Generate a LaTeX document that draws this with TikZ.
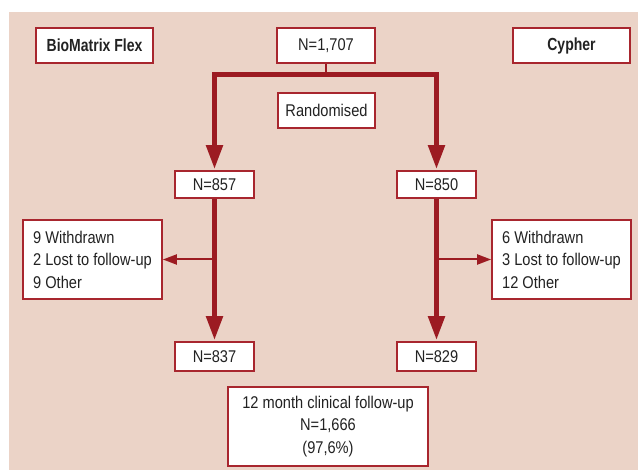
\documentclass[tikz,border=0pt]{standalone}
\usepackage{fontspec}
\setmainfont{Liberation Sans}[FakeStretch=0.86]
\newfontfamily\bcond{Liberation Sans}[FakeStretch=0.80]
\usetikzlibrary{arrows.meta}
\definecolor{bgc}{HTML}{EBD3C7}
\definecolor{frame}{HTML}{A8262E}
\definecolor{linec}{HTML}{9C1B22}
\definecolor{txt}{HTML}{222222}
\tikzset{
  box/.style={draw=frame, line width=1.7pt, fill=white, inner sep=0pt, text=txt,
    font=\fontsize{17}{22.5}\selectfont},
  boldbox/.style={box, font=\fontsize{17.5}{22}\selectfont\bcond\bfseries},
  thickline/.style={draw=linec, line width=5pt, line join=miter},
  thinline/.style={draw=linec, line width=2pt},
  bigtip/.style={-{Triangle[width=16pt,length=24pt]}},
  smalltip/.style={-{Triangle[width=10pt,length=14pt]}},
}
\begin{document}
\begin{tikzpicture}[x=1pt,y=-1pt]
\useasboundingbox (0,0) rectangle (638,470);
\fill[bgc] (9,12) rectangle (638,470);
\node[boldbox, minimum width=117pt, minimum height=35pt] (bmf) at (94.5,45.5) {BioMatrix Flex};
\node[box, minimum width=98pt, minimum height=35pt] (top) at (326,45.5) {N=1,707};
\node[boldbox, minimum width=117pt, minimum height=35pt] (cyp) at (571.5,45.5) {Cypher};
\node[box, minimum width=97pt, minimum height=35pt] (rand) at (326.5,110.5) {Randomised};
\node[box, minimum width=79pt, minimum height=27pt] (n857) at (214.5,184.5) {N=857};
\node[box, minimum width=79pt, minimum height=27pt] (n850) at (436.5,184.5) {N=850};
\node[box, minimum width=139pt, minimum height=79pt, align=left] (lbox) at (92.5,259.5) {9 Withdrawn\\2 Lost to follow-up\\9 Other};
\node[box, minimum width=139pt, minimum height=79pt, align=left] (rbox) at (561.5,259.5) {6 Withdrawn\\3 Lost to follow-up\\12 Other};
\node[box, minimum width=79pt, minimum height=29pt] (n837) at (214.5,356.5) {N=837};
\node[box, minimum width=79pt, minimum height=29pt] (n829) at (436.5,356.5) {N=829};
\node[box, minimum width=200pt, minimum height=79pt, align=center] (bot) at (328,426.5) {12 month clinical follow-up\\N=1,666\\(97,6\%)};
\coordinate (jl) at (214.5,75);
\coordinate (jr) at (436.5,75);
\draw[thinline] (top.south) -- (top.south |- jl);
\draw[thickline, {Triangle[width=16pt,length=24pt]}-{Triangle[width=16pt,length=24pt]}, shorten <=1pt, shorten >=1pt] (n857.north) -- (jl) -- (jr) -- (n850.north);
\draw[thickline, bigtip, shorten >=1pt] (n857.south) -- (n837.north);
\draw[thickline, bigtip, shorten >=1pt] (n850.south) -- (n829.north);
\draw[thinline, smalltip] (n857.south |- lbox.east) -- (lbox.east);
\draw[thinline, smalltip] (n850.south |- rbox.west) -- (rbox.west);
\end{tikzpicture}
\end{document}
